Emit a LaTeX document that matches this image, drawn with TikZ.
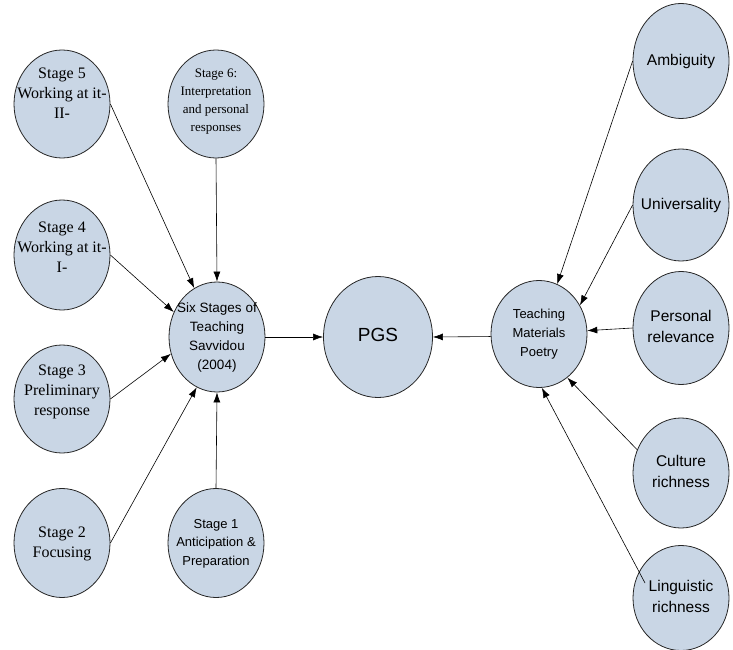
\documentclass[tikz,border=0pt]{standalone}
\usepackage{fontspec}
\setmainfont{Liberation Serif}
\newfontfamily\arialf{Liberation Sans}
\usetikzlibrary{shapes.geometric,arrows.meta}
\definecolor{bubble}{RGB}{201,214,229}
\newcommand{\mk}[1]{\makebox[0pt]{\begin{tabular}{@{}c@{}}#1\end{tabular}}}
\newcommand{\mkr}[2]{\makebox[0pt]{\raisebox{#1}[0pt][0pt]{\begin{tabular}{@{}c@{}}#2\end{tabular}}}}
\begin{document}
\begin{tikzpicture}[x=1pt,y=-1pt,
  bub/.style={ellipse,draw=black!85,line width=0.8pt,fill=bubble,inner sep=0pt,
              minimum width=96pt,minimum height=110pt},
  tnr/.style={font=\fontsize{16}{20}\selectfont},
  tnrs/.style={font=\fontsize{13}{18}\selectfont},
  ars/.style={font=\arialf\fontsize{13}{18.5}\selectfont},
  arm/.style={font=\arialf\fontsize{15.5}{21}\selectfont},
  arl/.style={font=\arialf\fontsize{19}{23}\selectfont},
  arr/.style={-{Latex[length=10pt,width=7pt]},line width=0.6pt}]
\useasboundingbox (0,0) rectangle (733,650);

\node[bub,tnr,minimum height=108pt] (s5) at (62,104) {\mkr{5pt}{Stage 5\\Working at it-\\II-}};
\node[bub,tnrs,minimum height=108pt] (s6) at (216,104) {\mkr{0pt}{Stage 6:\\Interpretation\\and personal\\responses}};
\node[bub,tnr] (s4) at (62,255) {\mkr{2pt}{Stage 4\\Working at it-\\I-}};
\node[bub,font=\arialf\fontsize{13.5}{19}\selectfont] (six) at (217,337) {\mk{Six Stages of\\Teaching\\Savvidou\\(2004)}};
\node[bub,tnr,minimum height=108pt] (s3) at (62,399) {\mkr{3pt}{Stage 3\\Preliminary\\response}};
\node[bub,tnr,minimum height=109pt] (s2) at (62,543) {\mk{Stage 2\\Focusing}};
\node[bub,ars,minimum height=109pt] (s1) at (216,543) {\mk{Stage 1\\Anticipation \&\\Preparation}};
\node[bub,arl,minimum width=109pt,minimum height=121pt] (pgs) at (378,337) {\mk{PGS}};
\node[bub,font=\arialf\fontsize{13}{19}\selectfont,minimum height=107pt] (tm) at (539,334) {\mk{Teaching\\Materials\\Poetry}};
\node[bub,arm,minimum height=115pt] (amb) at (681,61) {\mk{Ambiguity}};
\node[bub,arm,minimum height=112pt] (uni) at (681,205) {\mk{Universality}};
\node[bub,arm,minimum height=113pt] (per) at (681,328) {\mk{Personal\\relevance}};
\node[bub,arm] (cul) at (681,473) {\mk{Culture\\richness}};
\node[bub,arm,minimum height=105pt] (lin) at (681,598) {\mk{Linguistic\\richness}};
\coordinate (linstart) at (645,583);

\draw[arr] (s5.east) -- (six.115);
\draw[arr] (s6.south) -- (six.north);
\draw[arr] (s4.east) -- (six.150);
\draw[arr] (s3.east) -- (six.200);
\draw[arr] (s2.east) -- (six.248);
\draw[arr] (s1.north) -- (six.south);
\draw[arr] (six.east) -- (pgs.west);
\draw[arr] (tm.183) -- (pgs.east);
\draw[arr] (amb.west) -- (tm.70);
\draw[arr] (uni.west) -- (tm.35);
\draw[arr] (per.west) -- (tm.4);
\draw[arr] (cul.152) -- (tm.303);
\draw[arr] (linstart) -- (tm.273);
\end{tikzpicture}
\end{document}
